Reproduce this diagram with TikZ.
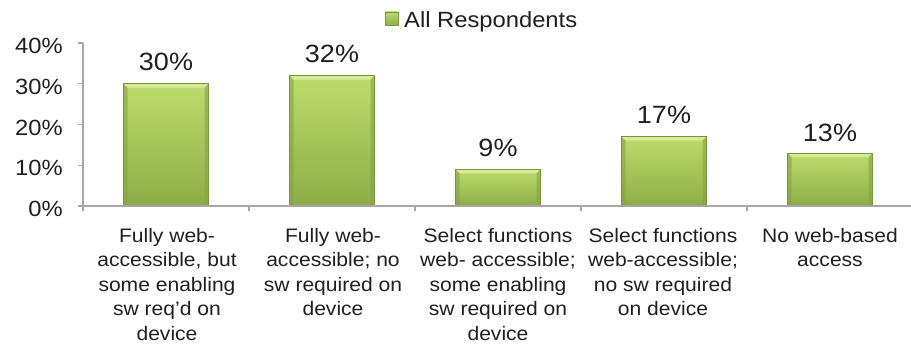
\documentclass[tikz,border=0pt]{standalone}
\usepackage{fontspec}
\setmainfont{Liberation Sans}
\usepackage{graphicx}
\definecolor{bartop}{HTML}{BEDB6C}
\definecolor{barbot}{HTML}{8CAD47}
\definecolor{baredge}{HTML}{76963A}
\definecolor{barhi}{HTML}{D6EC98}
\definecolor{barside}{HTML}{86A444}
\definecolor{axisgray}{HTML}{A6A6A6}
\definecolor{txt}{HTML}{1F1F1F}
\newcommand{\hs}[1]{\scalebox{1.08}[1]{#1}}
\newcommand{\bigpct}{\fontsize{25}{30}\selectfont}
\newcommand{\axpct}{\fontsize{22}{26}\selectfont}
\newcommand{\catfont}{\fontsize{19.5}{24.5}\selectfont}
\tikzset{
  axisline/.style={draw=axisgray, line width=1.2pt},
  barshape/.style={top color=bartop, bottom color=barbot, draw=baredge, line width=0.8pt},
  vallabel/.style={anchor=base, inner sep=0pt, text=txt, font=\bigpct},
  axlabel/.style={anchor=east, inner sep=0pt, text=txt, font=\axpct},
  catlabel/.style={anchor=north, inner sep=0pt, text=txt, font=\catfont},
}
\newcommand{\drawbar}[2]{% center x, top y
  \path[barshape] (#1-42.5,206) rectangle (#1+42.5,#2);
  \fill[barhi] (#1-42.5,#2) -- (#1+42.5,#2) -- (#1+38.5,#2+4) -- (#1-38.5,#2+4) -- cycle;
  \fill[barside, opacity=0.6] (#1-42.5,#2) -- (#1-38.5,#2+4) -- (#1-38.5,206) -- (#1-42.5,206) -- cycle;
  \fill[barside, opacity=0.6] (#1+42.5,#2) -- (#1+38.5,#2+4) -- (#1+38.5,206) -- (#1+42.5,206) -- cycle;
  \draw[baredge, line width=0.8pt] (#1-42.5,206) rectangle (#1+42.5,#2);
}
\begin{document}
\begin{tikzpicture}[x=1pt,y=-1pt]
\useasboundingbox (0,0) rectangle (911,345);
% legend
\path[top color=bartop, bottom color=barbot, draw=baredge, line width=0.6pt] (385,12) rectangle (398,25);
\node[anchor=base west, inner sep=0pt, text=txt, font=\fontsize{22}{26}\selectfont] (legend) at (404,28) {\hs{All Respondents}};
% bars
\drawbar{166}{83.75}
\drawbar{332}{75.6}
\drawbar{498}{169.3}
\drawbar{664}{136.7}
\drawbar{830}{153.0}
% axes
\draw[axisline] (83,43) -- (83,206);
\foreach \v in {0,10,20,30,40} {
  \draw[axisline] (78,{206-\v*4.075}) -- (83,{206-\v*4.075});
}
\draw[axisline] (78,206) -- (911,206);
\foreach \k in {0,...,5} {
  \draw[axisline] ({83+166*\k},206) -- ({83+166*\k},211);
}
% axis labels
\node[axlabel] (y40) at (63,46) {\hs{40\%}};
\node[axlabel] (y30) at (63,87) {\hs{30\%}};
\node[axlabel] (y20) at (63,128) {\hs{20\%}};
\node[axlabel] (y10) at (63,168) {\hs{10\%}};
\node[axlabel] (y0) at (63,209) {\hs{0\%}};
% value labels
\node[vallabel] (v1) at (166,71) {\hs{30\%}};
\node[vallabel] (v2) at (332,63) {\hs{32\%}};
\node[vallabel] (v3) at (498,157) {\hs{9\%}};
\node[vallabel] (v4) at (664,123.5) {\hs{17\%}};
\node[vallabel] (v5) at (830,141) {\hs{13\%}};
% category labels
\renewcommand{\arraystretch}{1}
\node[catlabel] (c1) at (167,225) {\hs{\begin{tabular}{@{}c@{}}Fully web-\\accessible, but\\some enabling\\sw req'd on\\device\end{tabular}}};
\node[catlabel] (c2) at (333,225) {\hs{\begin{tabular}{@{}c@{}}Fully web-\\accessible; no\\sw required on\\device\end{tabular}}};
\node[catlabel] (c3) at (498,225) {\hs{\begin{tabular}{@{}c@{}}Select functions\\web- accessible;\\some enabling\\sw required on\\device\end{tabular}}};
\node[catlabel] (c4) at (663,225) {\hs{\begin{tabular}{@{}c@{}}Select functions\\web-accessible;\\no sw required\\on device\end{tabular}}};
\node[catlabel] (c5) at (830,225) {\hs{\begin{tabular}{@{}c@{}}No web-based\\access\end{tabular}}};
\end{tikzpicture}
\end{document}
